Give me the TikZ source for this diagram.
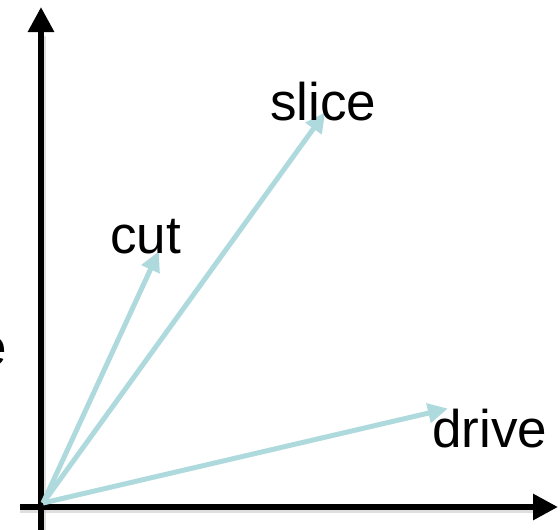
\documentclass[tikz,border=0pt]{standalone}
\usepackage{fontspec}
\setmainfont{Liberation Sans}
\usetikzlibrary{arrows.meta}
\definecolor{vecblue}{RGB}{174,218,222}
\begin{document}
\begin{tikzpicture}[x=1pt,y=-1pt,
  axis/.style={line width=6pt,black,-{Triangle[length=25pt,width=25pt]}},
  vec/.style={line width=5pt,vecblue,-{Triangle[length=20pt,width=19pt]},shorten >=-2pt},
  lbl/.style={font=\fontsize{53}{60}\selectfont,inner sep=0pt,anchor=base west},
  shadow/.style={line width=6pt,black!25,opacity=0.5}]
\useasboundingbox (0,0) rectangle (560,530);
\clip (0,0) rectangle (560,530);
% shadows of axes
\draw[shadow] (43,530) -- (43,36);
\draw[shadow] (20,510) -- (535,510);
% axes
\coordinate (ybot) at (41,530);
\coordinate (ytop) at (41,7);
\coordinate (xleft) at (20,507);
\coordinate (xright) at (558,507);
\draw[axis] (ybot) -- (ytop);
\draw[axis] (xleft) -- (xright);
% vectors
\coordinate (O) at (43,503);
\coordinate (cutend) at (158,253);
\coordinate (sliceend) at (324,114);
\coordinate (driveend) at (446,409);
\draw[vec] (O) -- (cutend);
\draw[vec] (O) -- (sliceend);
\draw[vec] (O) -- (driveend);
% labels
\node[lbl] (cut) at (110,253) {cut};
\node[lbl] (slice) at (270,120) {slice};
\node[lbl] (drive) at (432,447) {drive};
\node[font=\fontsize{53}{60}\selectfont,inner sep=0pt,anchor=base east] (edge) at (7,365) {e};
\end{tikzpicture}
\end{document}
